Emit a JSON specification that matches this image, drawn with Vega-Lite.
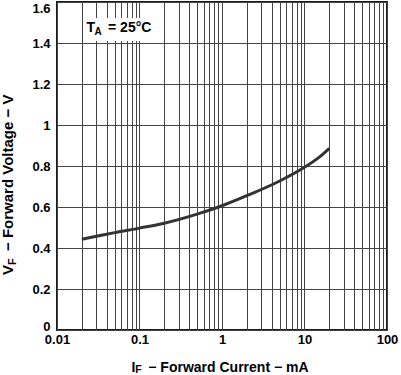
{
  "$schema": "https://vega.github.io/schema/vega-lite/v6.json",
  "width": 330,
  "height": 328,
  "autosize": "none",
  "padding": {"left": 57, "top": 2, "right": 14, "bottom": 45},
  "background": "white",
  "config": {
    "font": "Liberation Sans",
    "view": {"stroke": "#1a1a1a", "strokeWidth": 2},
    "axis": {
      "domain": false,
      "ticks": false,
      "grid": true,
      "gridColor": "#444444",
      "gridWidth": 1,
      "gridOpacity": 1,
      "labelFont": "Liberation Sans",
      "labelFontSize": 13,
      "labelFontWeight": "bold",
      "labelColor": "#000000",
      "labelOverlap": false
    }
  },
  "layer": [
    {
      "data": {
        "values": [
          {"current_mA": 0.02, "voltage_V": 0.443},
          {"current_mA": 0.03, "voltage_V": 0.457},
          {"current_mA": 0.05, "voltage_V": 0.475},
          {"current_mA": 0.1, "voltage_V": 0.497},
          {"current_mA": 0.2, "voltage_V": 0.521},
          {"current_mA": 0.5, "voltage_V": 0.565},
          {"current_mA": 1, "voltage_V": 0.606},
          {"current_mA": 2, "voltage_V": 0.655},
          {"current_mA": 5, "voltage_V": 0.727},
          {"current_mA": 10, "voltage_V": 0.794},
          {"current_mA": 15, "voltage_V": 0.842},
          {"current_mA": 20, "voltage_V": 0.886}
        ]
      },
      "mark": {"type": "line", "interpolate": "monotone", "stroke": "#333333", "strokeWidth": 3},
      "encoding": {
        "x": {
          "field": "current_mA",
          "type": "quantitative",
          "title": null,
          "scale": {"type": "log", "domain": [0.01, 100], "nice": false},
          "axis": {
            "title": null,
            "values": [0.01, 0.02, 0.03, 0.04, 0.05, 0.06, 0.07, 0.08, 0.09, 0.1, 0.2, 0.3, 0.4, 0.5, 0.6, 0.7, 0.8, 0.9, 1, 2, 3, 4, 5, 6, 7, 8, 9, 10, 20, 30, 40, 50, 60, 70, 80, 90, 100],
            "labelExpr": "datum.value == 0.01 ? '0.01' : datum.value == 0.1 ? '0.1' : datum.value == 1 ? '1' : datum.value == 10 ? '10' : datum.value == 100 ? '100' : ''",
            "labelFlush": false,
            "labelPadding": 3.5
          }
        },
        "y": {
          "field": "voltage_V",
          "type": "quantitative",
          "title": null,
          "scale": {"domain": [0, 1.6], "nice": false},
          "axis": {
            "title": null,
            "values": [0, 0.2, 0.4, 0.6, 0.8, 1, 1.2, 1.4, 1.6],
            "labelExpr": "format(datum.value, '~g')",
            "labelFlush": false,
            "labelPadding": 7,
            "labelBaseline": {"condition": [{"test": "datum.value == 1.6", "value": "top"}, {"test": "datum.value == 0", "value": "alphabetic"}], "value": "middle"}
          }
        }
      }
    },
    {
      "data": {"values": [{}]},
      "mark": {"type": "rect", "fill": "white", "stroke": null},
      "encoding": {
        "x": {"datum": 0.0212, "type": "quantitative", "title": null},
        "x2": {"datum": 0.19},
        "y": {"datum": 1.41, "type": "quantitative", "title": null},
        "y2": {"datum": 1.522}
      }
    },
    {
      "data": {"values": [{}]},
      "layer": [
        {"mark": {"type": "text", "text": "T", "align": "left", "baseline": "alphabetic", "fontSize": 14, "fontWeight": "bold", "color": "#000000", "dx": 0}},
        {"mark": {"type": "text", "text": "A", "align": "left", "baseline": "alphabetic", "fontSize": 10, "fontWeight": "bold", "color": "#000000", "dx": 8, "dy": 3}},
        {"mark": {"type": "text", "text": "= 25°C", "align": "left", "baseline": "alphabetic", "fontSize": 14, "fontWeight": "bold", "color": "#000000", "dx": 21.5}}
      ],
      "encoding": {
        "x": {"datum": 0.0228, "type": "quantitative", "title": null},
        "y": {"datum": 1.455, "type": "quantitative", "title": null}
      }
    },
    {
      "data": {"values": [{}]},
      "layer": [
        {"mark": {"type": "text", "text": "I", "align": "left", "baseline": "alphabetic", "fontSize": 14, "fontWeight": "bold", "color": "#000000", "dx": -90.5, "dy": 41.5}},
        {"mark": {"type": "text", "text": "F", "align": "left", "baseline": "alphabetic", "fontSize": 10.5, "fontWeight": "bold", "color": "#000000", "dx": -86.8, "dy": 43}},
        {"mark": {"type": "text", "text": "− Forward Current − mA", "align": "left", "baseline": "alphabetic", "fontSize": 14, "fontWeight": "bold", "color": "#000000", "dx": -73.7, "dy": 41.5}}
      ],
      "encoding": {
        "x": {"datum": 1, "type": "quantitative", "title": null},
        "y": {"datum": 0, "type": "quantitative", "title": null}
      }
    },
    {
      "data": {"values": [{}]},
      "layer": [
        {"mark": {"type": "text", "text": "V", "angle": 270, "align": "left", "baseline": "alphabetic", "fontSize": 15, "fontWeight": "bold", "color": "#000000", "dx": -109, "dy": -43.7}},
        {"mark": {"type": "text", "text": "F", "angle": 270, "align": "left", "baseline": "alphabetic", "fontSize": 11, "fontWeight": "bold", "color": "#000000", "dx": -99, "dy": -40.9}},
        {"mark": {"type": "text", "text": "− Forward Voltage − V", "angle": 270, "align": "left", "baseline": "alphabetic", "fontSize": 15, "fontWeight": "bold", "color": "#000000", "dx": -85, "dy": -43.7}}
      ],
      "encoding": {
        "x": {"datum": 0.01, "type": "quantitative", "title": null},
        "y": {"datum": 0.8, "type": "quantitative", "title": null}
      }
    }
  ]
}
